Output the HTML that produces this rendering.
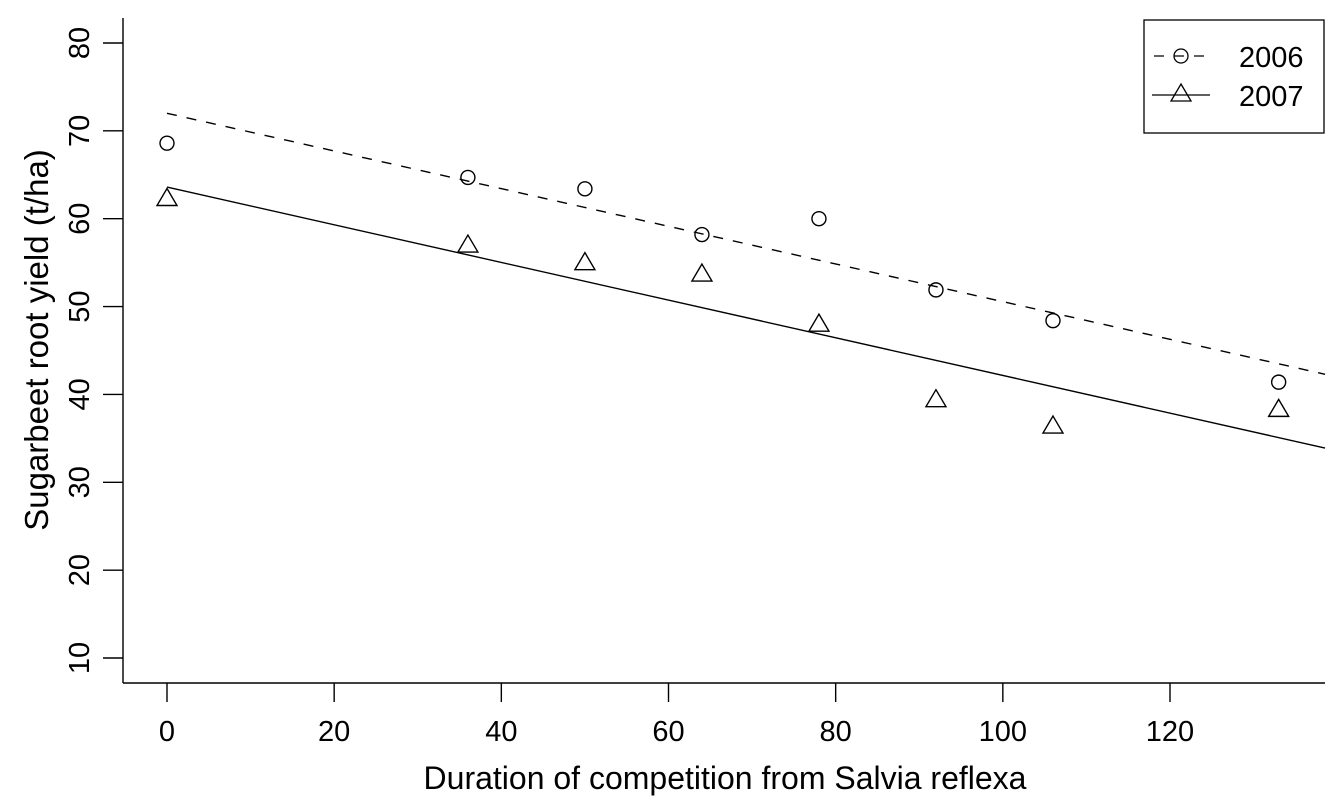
<!DOCTYPE html>
<html><head><meta charset="utf-8"><style>body{margin:0;background:#fff}svg{display:block}</style></head>
<body>
<svg id="chart" width="1344" height="806" xmlns="http://www.w3.org/2000/svg" font-family="Liberation Sans, sans-serif">
<g id="axes"></g><g id="marks"></g>
<g>
<rect x="1144" y="20" width="180" height="113" fill="#fff" stroke="#000" stroke-width="1.3"/>
<line x1="1152" y1="56" x2="1210" y2="56" stroke="#000" stroke-width="1.3" stroke-dasharray="10,10" stroke-dashoffset="-2"/>
<circle cx="1181" cy="56" r="7" fill="none" stroke="#000" stroke-width="1.3"/>
<text x="1239" y="67" font-size="29">2006</text>
<line x1="1152" y1="95" x2="1210" y2="95" stroke="#000" stroke-width="1.3"/>
<polygon points="1181,84 1191,101 1171,101" fill="none" stroke="#000" stroke-width="1.3"/>
<text x="1239" y="106" font-size="29">2007</text>
</g>
</svg>
<script>
const days = [0, 36, 50, 64, 78, 92, 106, 133];
const yield2006 = [68.6, 64.7, 63.4, 58.2, 60.0, 51.9, 48.4, 41.4];
const yield2007 = [62.3, 57.0, 55.0, 53.7, 48.0, 39.4, 36.4, 38.3];
const fit2006 = [72.0, -0.2144];
const fit2007 = [63.6, -0.2144];
const xTicks = [0, 20, 40, 60, 80, 100, 120];
const yTicks = [10, 20, 30, 40, 50, 60, 70, 80];
const xMaxDomain = 138.55;

const NS = 'http://www.w3.org/2000/svg';
const sx = v => 167 + v * (1170 - 167) / 120;
const sy = v => 658 - (v - 10) * (658 - 43) / 70;
function mk(tag, attrs, parent, text) {
  const e = document.createElementNS(NS, tag);
  for (const k in attrs) e.setAttribute(k, attrs[k]);
  if (text !== undefined) e.textContent = text;
  parent.appendChild(e); return e;
}
const axes = document.getElementById('axes');
const marks = document.getElementById('marks');
const st = {stroke: '#000', 'stroke-width': 1.4, fill: 'none'};

let xl = mk('line', Object.assign({x1: 123, x2: 1325, y1: 683, y2: 683}, st), axes);


xTicks.forEach(t => {
  mk('line', Object.assign({x1: sx(t), x2: sx(t), y1: 683, y2: 702}, st), axes);
  const tx = mk('text', {x: sx(t), y: 741, 'font-size': 29, 'text-anchor': 'middle'}, axes, t);
  
  
});
let yl = mk('line', Object.assign({x1: 123, x2: 123, y1: 18, y2: 683}, st), axes);


yTicks.forEach(t => {
  mk('line', Object.assign({x1: 103, x2: 123, y1: sy(t), y2: sy(t)}, st), axes);
  const tx = mk('text', {x: 0, y: 0, 'font-size': 29, 'text-anchor': 'middle', transform: `translate(89,${sy(t)}) rotate(-90)`}, axes, t);
  
  
});
let xt = mk('text', {x: 725, y: 789, 'font-size': 32, 'text-anchor': 'middle'}, axes, 'Duration of competition from Salvia reflexa');


let yt = mk('text', {x: 0, y: 0, 'font-size': 33, 'text-anchor': 'middle', transform: 'translate(48,340) rotate(-90)'}, axes, 'Sugarbeet root yield (t/ha)');



let f1 = mk('line', Object.assign({x1: sx(0), y1: sy(fit2006[0]), x2: sx(xMaxDomain), y2: sy(fit2006[0] + fit2006[1] * xMaxDomain), 'stroke-dasharray': '10,10'}, st), marks);


let f2 = mk('line', Object.assign({x1: sx(0), y1: sy(fit2007[0]), x2: sx(xMaxDomain), y2: sy(fit2007[0] + fit2007[1] * xMaxDomain)}, st), marks);



days.forEach((d, i) => {
  const c = mk('circle', Object.assign({cx: sx(d), cy: sy(yield2006[i]), r: 7}, st), marks);
  
  
  const x = sx(d), y = sy(yield2007[i]);
  const p = mk('polygon', Object.assign({points: `${x},${y-10} ${x+10},${y+7} ${x-10},${y+7}`}, st), marks);
  
  
});
</script>
</body></html>
